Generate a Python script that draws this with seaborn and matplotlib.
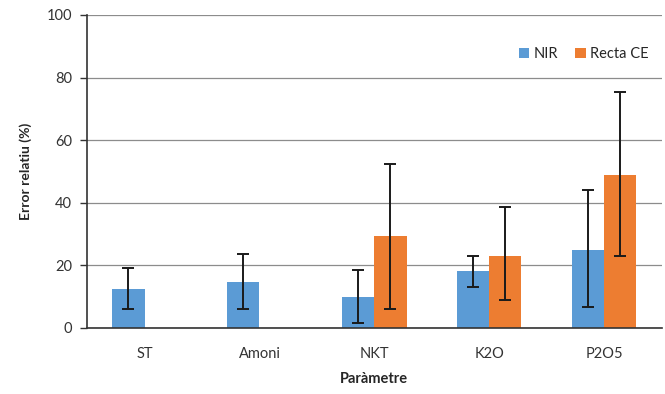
import numpy as np
import pandas as pd
import matplotlib
matplotlib.use('Agg')
import matplotlib.pyplot as plt
import seaborn as sns

categories = ['ST', 'Amoni', 'NKT', 'K2O', 'P2O5']
nir = [12.3, 14.7, 10.0, 18.0, 25.0]
nir_low = [6.0, 6.0, 1.5, 13.0, 6.8]
nir_high = [19.2, 23.5, 18.5, 23.0, 44.0]
ce = [np.nan, np.nan, 29.5, 23.0, 49.0]
ce_low = [np.nan, np.nan, 6.0, 8.8, 23.0]
ce_high = [np.nan, np.nan, 52.5, 38.5, 75.5]
series = ['NIR', 'Recta CE']
colors = ['#5B9BD5', '#ED7D31']

data = pd.DataFrame({
    'Parametre': categories * 2,
    'Serie': [series[0]] * 5 + [series[1]] * 5,
    'Valor': nir + ce,
    'Baix': nir_low + ce_low,
    'Alt': nir_high + ce_high,
})

sns.set_style('white')
plt.rcParams['font.family'] = ['Lato', 'DejaVu Sans']

fig = plt.figure(figsize=(6.65, 3.94), dpi=100)
ax = fig.add_axes([0.131, 0.168, 0.864, 0.794])

sns.barplot(data=data, x='Parametre', y='Valor', hue='Serie', order=categories,
            hue_order=series, palette=colors, width=0.56, errorbar=None,
            saturation=1, linewidth=0, ax=ax, zorder=2)

# barres d'error asimetriques
for cont, s in zip(ax.containers, series):
    sub = data[data['Serie'] == s].set_index('Parametre')
    for bar in cont:
        xc = bar.get_x() + bar.get_width() / 2
        cat = categories[int(round(xc))]
        row = sub.loc[cat]
        if np.isnan(row['Valor']):
            continue
        ax.errorbar(xc, row['Valor'],
                    yerr=[[row['Valor'] - row['Baix']], [row['Alt'] - row['Valor']]],
                    fmt='none', ecolor='#1a1a1a', elinewidth=1.4, capsize=4,
                    capthick=1.4, zorder=3)

ax.set_ylim(0, 100)
ax.set_xlim(-0.5, 4.5)
ax.set_yticks([0, 20, 40, 60, 80, 100])
ax.yaxis.grid(True, color='#8c8c8c', linewidth=0.9, zorder=0)
ax.set_axisbelow(True)
ax.set_xticks(np.arange(-0.5, 5, 1), minor=True)
ax.tick_params(axis='x', which='major', length=0, pad=14, labelsize=10.5, colors='#333333')
ax.tick_params(axis='x', which='minor', length=5, width=1, direction='out', color='#333333')
ax.tick_params(axis='y', length=5, width=1, direction='out', left=True, labelsize=10.5,
               colors='#333333', pad=6)
for side in ['top', 'right']:
    ax.spines[side].set_visible(False)
for side in ['left', 'bottom']:
    ax.spines[side].set_color('#333333')
    ax.spines[side].set_linewidth(1.2)

ax.set_xlabel('Paràmetre', fontsize=10.5, fontweight='bold', labelpad=8)
ax.set_ylabel('Error relatiu (%)', fontsize=10, fontweight='bold', labelpad=10)

ax.legend(title=None, loc='upper right', bbox_to_anchor=(1.0, 0.94), ncol=2, frameon=False,
          handlelength=0.7, handleheight=0.7, handletextpad=0.3, columnspacing=1.2,
          fontsize=10.5)

fig.savefig('out.png', dpi=100)
